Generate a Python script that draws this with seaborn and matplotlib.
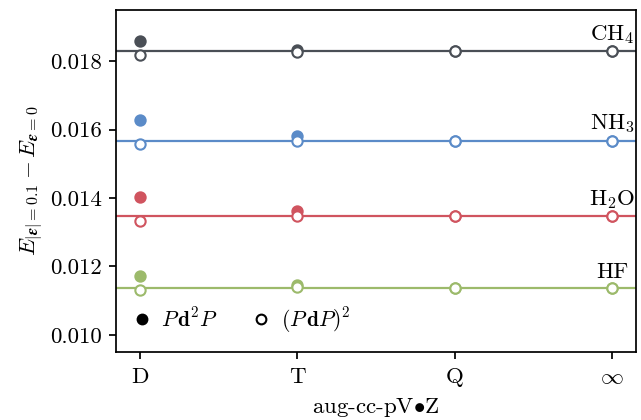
import matplotlib
matplotlib.use("Agg")
import matplotlib.pyplot as plt
import numpy as np
import pandas as pd
import seaborn as sns

# basis set cardinal numbers (x positions 0..3)
basis = ["D", "T", "Q", r"$\infty$"]
molecules = ["CH$_4$", "NH$_3$", "H$_2$O", "HF"]
colors = ["#4a4f56", "#5b8bc8", "#d0545f", "#9cba6b"]

# extrapolated (CBS) values, drawn as horizontal lines
cbs = [0.01830, 0.015685, 0.013474, 0.011372]

# P d^2 P (filled markers)
pd2p = [
    [0.018590, 0.018342, 0.018300, 0.018300],
    [0.016277, 0.015819, 0.015685, 0.015685],
    [0.014020, 0.013620, 0.013474, 0.013474],
    [0.011731, 0.011460, 0.011372, 0.011372],
]
# (P d P)^2 (open markers)
pdp2 = [
    [0.018195, 0.018272, 0.018300, 0.018300],
    [0.015577, 0.015664, 0.015685, 0.015685],
    [0.013328, 0.013483, 0.013474, 0.013474],
    [0.011314, 0.011393, 0.011372, 0.011372],
]

sns.set_style("ticks")
plt.rcParams["font.family"] = "serif"
plt.rcParams["font.serif"] = ["cmr10", "DejaVu Serif"]
plt.rcParams["mathtext.fontset"] = "cm"
plt.rcParams["axes.formatter.use_mathtext"] = True
plt.rcParams["axes.linewidth"] = 1.25
plt.rcParams["axes.edgecolor"] = "black"
plt.rcParams["xtick.color"] = "black"
plt.rcParams["ytick.color"] = "black"
plt.rcParams["text.color"] = "black"
plt.rcParams["axes.labelcolor"] = "black"
plt.rcParams["xtick.major.width"] = 1.25
plt.rcParams["ytick.major.width"] = 1.25

fs = 16.5
fig, ax = plt.subplots(figsize=(6.41, 4.2), dpi=100)
x = np.arange(len(basis))

for i, mol in enumerate(molecules):
    c = colors[i]
    ax.axhline(cbs[i], color=c, lw=1.6, zorder=1)
    df = pd.DataFrame({"x": x, "filled": pd2p[i], "open": pdp2[i]})
    sns.scatterplot(data=df, x="x", y="filled", ax=ax, color=c, s=55,
                    edgecolor=c, linewidth=1.5, zorder=2, legend=False)
    sns.scatterplot(data=df, x="x", y="open", ax=ax, color="white", s=55,
                    edgecolor=c, linewidth=1.5, zorder=3, legend=False)
    ax.annotate(mol, (x[-1], cbs[i]), xytext=(0, 4), textcoords="offset points",
                ha="center", va="bottom", fontsize=fs)

# legend handles
ax.plot([], [], "o", color="black", ms=7, mew=1.5, ls="none", label=r"$P\,\mathbf{d}^2P$")
ax.plot([], [], "o", color="black", mfc="white", ms=7, mew=1.5, ls="none",
        label=r"$(P\,\mathbf{d}P)^2$")
ax.legend(loc="lower left", ncol=2, frameon=False, fontsize=fs - 1,
          handletextpad=0.5, columnspacing=1.6, borderaxespad=0.2,
          borderpad=0.6, handlelength=0.8)

ax.set_xlim(-0.15, 3.15)
ax.set_ylim(0.0095, 0.0195)
ax.set_xticks(x)
ax.set_xticklabels(basis)
ax.set_yticks([0.010, 0.012, 0.014, 0.016, 0.018])
ax.set_yticklabels(["0.010", "0.012", "0.014", "0.016", "0.018"])
ax.tick_params(axis="both", labelsize=fs, direction="out", length=5)
ax.tick_params(axis="x", pad=6)
ax.tick_params(axis="y", pad=5)
ax.set_xlabel(r"aug-cc-pV$\bullet$Z", fontsize=fs, labelpad=7)
ax.set_ylabel(r"$E_{|\boldsymbol{\epsilon}|=0.1} - E_{\boldsymbol{\epsilon}=0}$", fontsize=fs)

fig.subplots_adjust(left=0.181, right=0.992, top=0.976, bottom=0.162)
plt.savefig("out.png", dpi=100)
